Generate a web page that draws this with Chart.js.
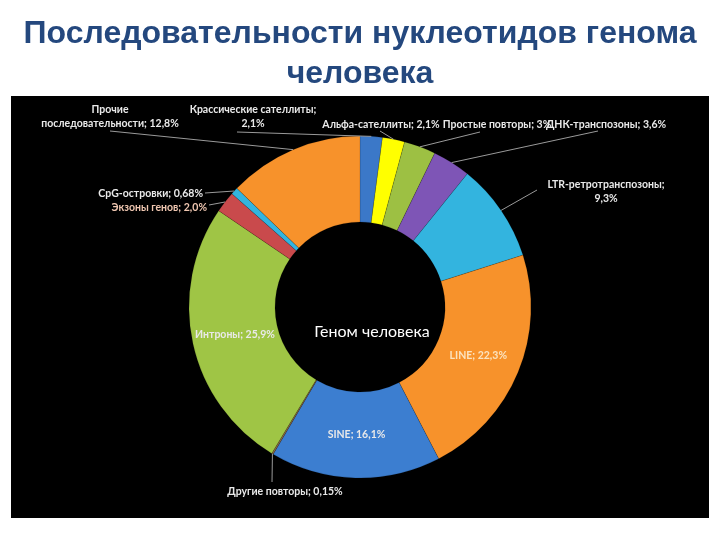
<!DOCTYPE html>
<html>
<head>
<meta charset="utf-8">
<script src="https://cdn.jsdelivr.net/npm/chart.js@4.4.1/dist/chart.umd.min.js"></script>
<style>
html, body { margin: 0; padding: 0; background: #fff; }
</style>
</head>
<body>
<canvas id="genoma" width="720" height="540"></canvas>
<script>
// datos
const categorias = ['Крассические сателлиты', 'Альфа-сателлиты', 'Простые повторы', 'ДНК-транспозоны',
  'LTR-ретротранспозоны', 'LINE', 'SINE', 'Другие повторы', 'Интроны', 'Экзоны генов',
  'CpG-островки', 'Прочие последовательности'];
const porcentajes = [2.1, 2.1, 3, 3.6, 9.3, 22.3, 16.1, 0.15, 25.9, 2.0, 0.68, 12.8];
const textos = [
  ['Крассические сателлиты;', '2,1%'],
  ['Альфа-сателлиты; 2,1%'],
  ['Простые повторы; 3%'],
  ['ДНК-транспозоны; 3,6%'],
  ['LTR-ретротранспозоны;', '9,3%'],
  ['LINE; 22,3%'],
  ['SINE; 16,1%'],
  ['Другие повторы; 0,15%'],
  ['Интроны; 25,9%'],
  ['Экзоны генов; 2,0%'],
  ['CpG-островки; 0,68%'],
  ['Прочие', 'последовательности; 12,8%']
];
const colores = ['#3b78c8', '#ffff00', '#9dc043', '#7e55b6', '#33b4df', '#f7922b',
  '#3c7ed0', '#8a6a45', '#9fc545', '#c94a4c', '#33b4df', '#f7922b'];
const titulo = ['Последовательности нуклеотидов генома', 'человека'];
const centro = 'Геном человека';

// posiciones de las etiquetas (x, y de la primera linea, alineacion, inicio de la linea guia)
const posEtiquetas = [
  { x: 253, y: 110, align: 'center', desde: [237, 132] },
  { x: 381, y: 125, align: 'center', desde: [380, 131] },
  { x: 497, y: 125, align: 'center', desde: [480, 132] },
  { x: 606, y: 125, align: 'center', desde: [598, 131] },
  { x: 606, y: 185, align: 'center', desde: [537, 190] },
  { dentro: true, color: '#fbe3bf' },
  { dentro: true },
  { x: 285, y: 492, align: 'center', desde: [272, 482] },
  { dentro: true },
  { x: 207, y: 208, align: 'right', desde: [209, 205], color: '#efc6b0' },
  { x: 203, y: 194, align: 'right', desde: [205, 193] },
  { x: 110, y: 110, align: 'center', desde: [110, 131] }
];

const fondoNegro = {
  id: 'fondoNegro',
  beforeDraw(chart) {
    const { ctx, chartArea: a } = chart;
    ctx.save();
    ctx.fillStyle = '#000';
    ctx.fillRect(a.left, a.top, a.right - a.left, a.bottom - a.top);
    ctx.restore();
  }
};

const etiquetas = {
  id: 'etiquetas',
  afterDatasetsDraw(chart) {
    const ctx = chart.ctx;
    const arcos = chart.getDatasetMeta(0).data;
    ctx.save();
    ctx.font = 'bold 10.5px Lato';
    ctx.textBaseline = 'middle';
    arcos.forEach((arco, i) => {
      const p = posEtiquetas[i];
      const lineas = textos[i];
      ctx.fillStyle = p.color || '#e9e9e9';
      if (p.dentro) {
        const c = arco.getCenterPoint();
        ctx.textAlign = 'center';
        ctx.fillText(lineas.join(' '), c.x, c.y);
        return;
      }
      // linea guia hasta el borde exterior del sector
      const a = arco.getProps(['x', 'y', 'startAngle', 'endAngle', 'outerRadius'], true);
      const ang = (a.startAngle + a.endAngle) / 2;
      ctx.strokeStyle = '#9a9a9a';
      ctx.lineWidth = 1;
      ctx.beginPath();
      ctx.moveTo(p.desde[0], p.desde[1]);
      ctx.lineTo(a.x + a.outerRadius * Math.cos(ang), a.y + a.outerRadius * Math.sin(ang));
      ctx.stroke();
      ctx.textAlign = p.align;
      lineas.forEach((t, k) => ctx.fillText(t, p.x, p.y + k * 14));
    });
    // texto central
    const a0 = arcos[0];
    ctx.font = '16px Lato';
    ctx.fillStyle = '#ffffff';
    ctx.textAlign = 'center';
    ctx.fillText(centro, a0.x + 12, a0.y + 25);
    ctx.restore();
  }
};

new Chart(document.getElementById('genoma'), {
  type: 'doughnut',
  data: {
    labels: categorias,
    datasets: [{
      data: porcentajes,
      backgroundColor: colores,
      borderColor: 'rgba(0,0,0,0.25)',
      borderWidth: 0.5,
      hoverOffset: 0
    }]
  },
  options: {
    responsive: false,
    animation: false,
    radius: 171,
    cutout: '49.7%',
    layout: { padding: { top: 0, left: 11, right: 11, bottom: 22 } },
    plugins: {
      legend: { display: false },
      tooltip: { enabled: false },
      title: {
        display: true,
        text: titulo,
        color: '#24487e',
        font: { family: 'Liberation Sans', size: 32, weight: 'bold', lineHeight: 1.25 },
        padding: { top: 14, bottom: 2 }
      }
    }
  },
  plugins: [fondoNegro, etiquetas]
});
</script>
</body>
</html>
